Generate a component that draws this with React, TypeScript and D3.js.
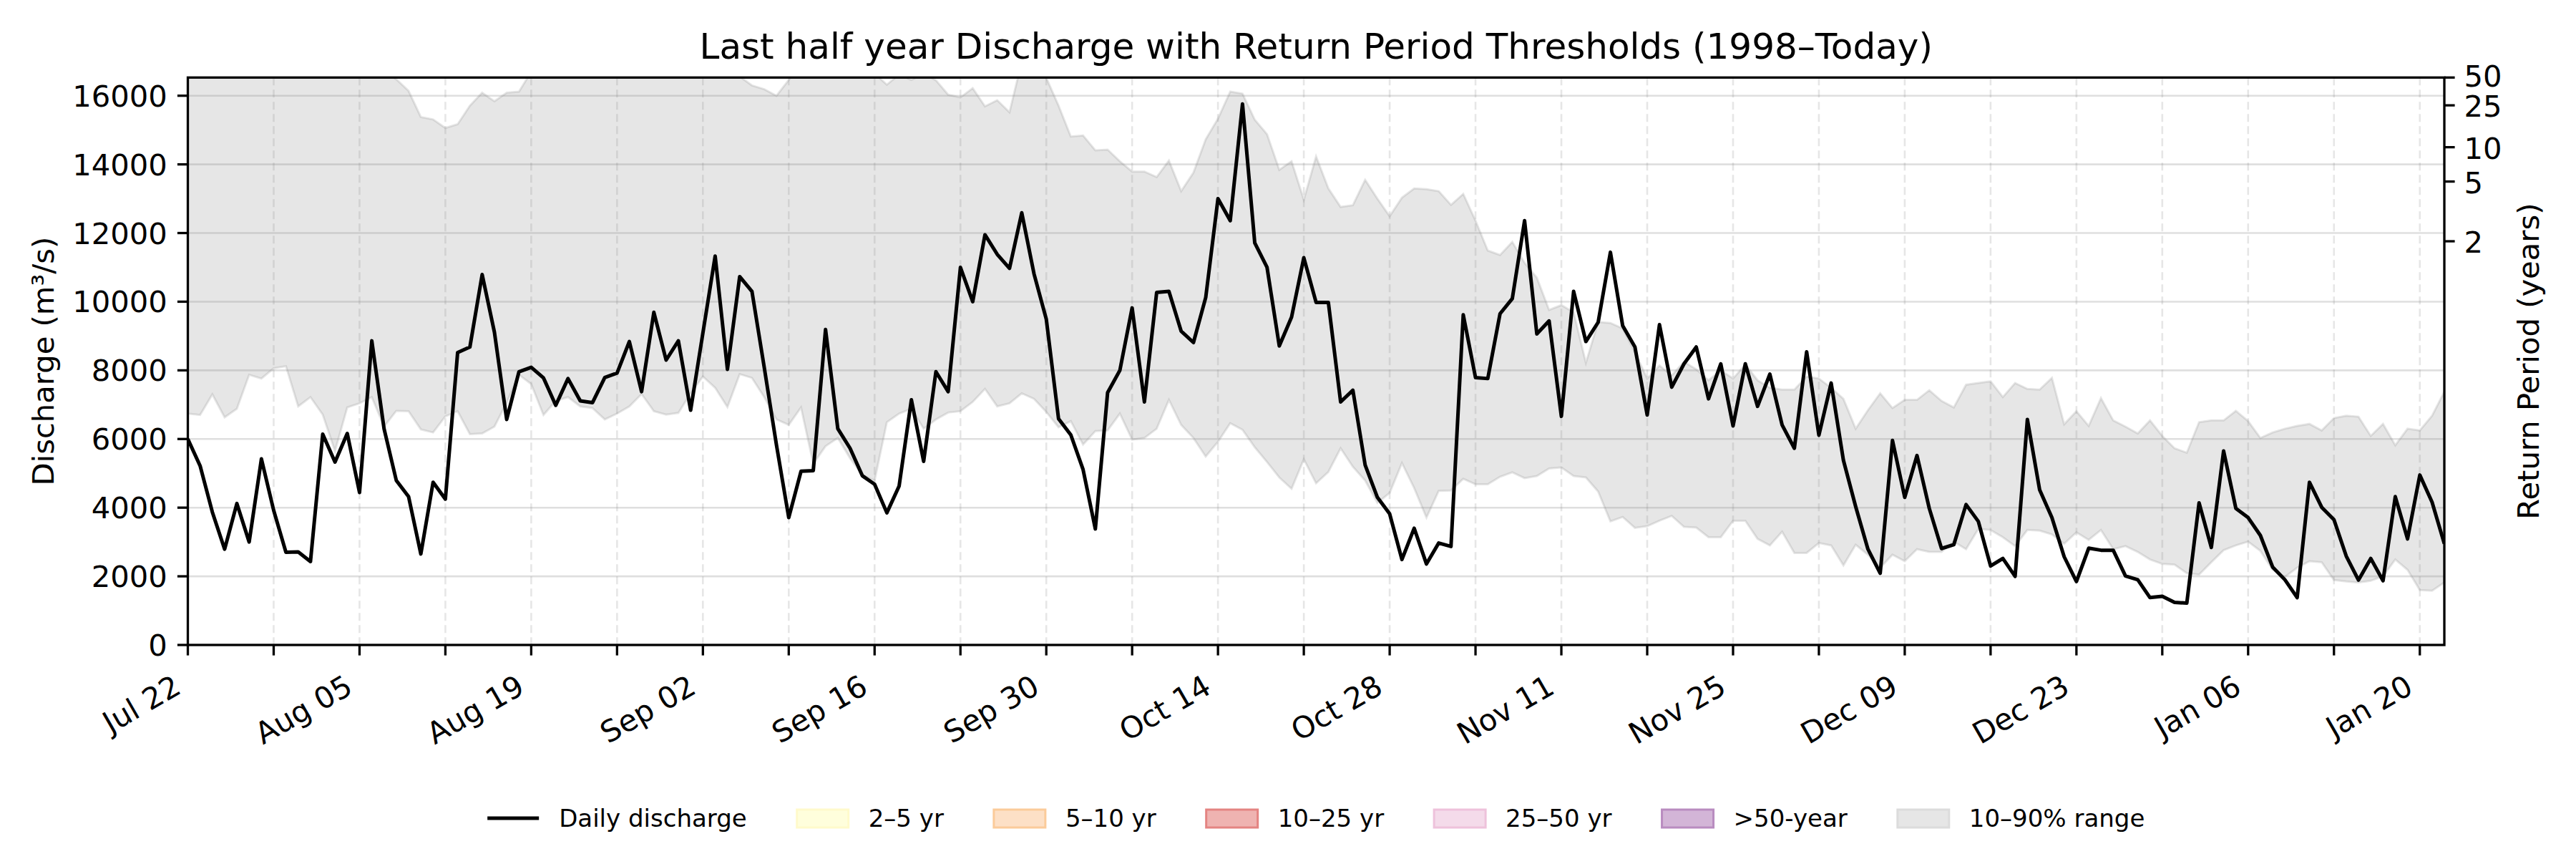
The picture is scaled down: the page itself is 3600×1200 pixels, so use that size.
import React, { useMemo } from 'react';
import * as d3 from 'd3';

// daily series, Jul 22 -> Jan 22
const START = Date.UTC(2024, 6, 22);

const discharge = [
  6000, 5220, 3870, 2790, 4120, 3000, 5420, 3920, 2700, 2710,
  2430, 6140, 5330, 6160, 4440, 8860, 6300, 4790, 4320, 2650,
  4740, 4250, 8520, 8680, 10790, 9110, 6570, 7960, 8090, 7780,
  6980, 7760, 7110, 7060, 7790, 7920, 8840, 7380, 9690, 8300,
  8860, 6840, 9090, 11330, 8030, 10730, 10300, 8090, 5820, 3710,
  5060, 5080, 9190, 6300, 5730, 4930, 4680, 3850, 4630, 7140,
  5350, 7960, 7380, 11000, 10000, 11950, 11380, 10970, 12590, 10810,
  9490, 6590, 6120, 5110, 3380, 7350, 8000, 9820, 7080, 10270,
  10300, 9140, 8810, 10120, 13000, 12360, 15760, 11710, 11000, 8710,
  9550, 11280, 9980, 9980, 7080, 7420, 5240, 4300, 3820, 2490,
  3400, 2360, 2970, 2870, 9620, 7790, 7760, 9650, 10090, 12360,
  9060, 9440, 6660, 10300, 8840, 9400, 11440, 9300, 8680, 6700,
  9330, 7510, 8190, 8680, 7170, 8190, 6380, 8190, 6950, 7890,
  6410, 5730, 8540, 6110, 7630, 5380, 4030, 2790, 2090, 5960,
  4300, 5520, 3980, 2810, 2920, 4090, 3600, 2300, 2520, 2000,
  6570, 4520, 3710, 2570, 1850, 2820, 2760, 2760, 2010, 1900,
  1380, 1420, 1240, 1220, 4140, 2840, 5650, 3980, 3710, 3190,
  2270, 1900, 1380, 4740, 4010, 3650, 2590, 1890, 2520, 1870,
  4320, 3090, 4950, 4160, 2950,
];

const p10 = [
  6740, 6700, 7300, 6630, 6880, 7870, 7760, 8060, 8120, 6950,
  7220, 6710, 5650, 6920, 7040, 7220, 6360, 6820, 6810, 6280,
  6190, 6660, 6810, 6140, 6160, 6360, 7060, 7870, 7600, 6700,
  7110, 7220, 6950, 6900, 6570, 6740, 6950, 7310, 6810, 6710,
  6760, 7330, 7820, 7490, 6930, 7890, 7780, 7220, 6570, 6410,
  6920, 5280, 5790, 6030, 5440, 4950, 4790, 6490, 6740, 6880,
  6300, 6570, 6770, 6810, 7080, 7460, 6950, 7040, 7330, 7170,
  6790, 6340, 6520, 5840, 6230, 6250, 6740, 5980, 6030, 6300,
  7140, 6410, 6030, 5490, 5920, 6460, 6270, 5760, 5330, 4880,
  4550, 5410, 4710, 5040, 5730, 5190, 4790, 4140, 4430, 5300,
  4570, 3710, 4490, 4500, 4840, 4680, 4680, 4900, 5030, 4860,
  4920, 5140, 5170, 4920, 4880, 4470, 3600, 3730, 3410, 3460,
  3620, 3760, 3440, 3420, 3140, 3140, 3620, 3620, 3090, 2900,
  3300, 2680, 2680, 2970, 2900, 2320, 2920, 2630, 2250, 2630,
  2440, 2790, 2710, 2710, 3010, 2790, 3380, 3350, 3140, 2880,
  3350, 3330, 3220, 2950, 3280, 3060, 3350, 2790, 2880, 2710,
  2490, 2360, 2340, 2090, 2050, 2410, 2760, 2900, 3010, 2740,
  2190, 1980, 2250, 2440, 2410, 1890, 1850, 1820, 1870, 2000,
  2490, 2190, 1600, 1580, 1820,
];

const p90 = [
  17400, 17600, 17300, 17800, 18000, 17700, 17900, 18200, 17800, 17500,
  17900, 18100, 17600, 17300, 17400, 17100, 16700, 16480, 16140, 15380,
  15310, 15060, 15170, 15710, 16090, 15840, 16090, 16120, 16700, 17200,
  17500, 17300, 17800, 17600, 17900, 17700, 17400, 17600, 17300, 17800,
  17500, 17300, 17600, 17200, 16900, 16560, 16300, 16190, 16000, 16460,
  16900, 17200, 17400, 17100, 17300, 16900, 16650, 16320, 16620, 16460,
  16650, 16450, 16030, 15950, 16220, 15690, 15870, 15520, 17000, 17100,
  16520, 15710, 14810, 14840, 14410, 14430, 14090, 13790, 13790, 13630,
  14110, 13220, 13760, 14730, 15330, 16120, 16060, 15300, 14880, 13840,
  14090, 12970, 14230, 13300, 12760, 12810, 13550, 13000, 12490, 13030,
  13300, 13280, 13220, 12820, 13140, 12360, 11490, 11360, 11740, 11130,
  10700, 9760, 9900, 9690, 8220, 9410, 9380, 9220, 8520, 7760,
  8140, 7850, 8250, 8030, 7710, 8000, 7760, 8170, 7710, 7490,
  7440, 7440, 7820, 7760, 7490, 7170, 6300, 6840, 7330, 6900,
  7140, 7140, 7420, 7110, 6920, 7580, 7630, 7680, 7220, 7630,
  7460, 7440, 7780, 6430, 6810, 6380, 7190, 6540, 6360, 6160,
  6540, 6090, 5730, 5600, 6490, 6540, 6540, 6820, 6520, 6030,
  6190, 6300, 6380, 6440, 6250, 6610, 6680, 6650, 6090, 6440,
  5820, 6300, 6250, 6680, 7380,
];

const yTicks = [0, 2000, 4000, 6000, 8000, 10000, 12000, 14000, 16000];
const returnPeriods = [2, 5, 10, 25, 50];
const returnThresholds = [11760, 13500, 14500, 15720, 16530];
const Y_MAX = 16530;

const legendLabels = ['Daily discharge', '2–5 yr', '5–10 yr', '10–25 yr', '25–50 yr', '>50-year', '10–90% range'];
const legendFills = ['', '#FFFEDC', '#FDE0C6', '#EFB3B1', '#F4DBEA', '#D3B5D7', '#E6E6E6'];
const legendEdges = ['', '#FFFACB', '#FBCB9A', '#E48482', '#EEC2DB', '#B98CC0', '#DCDCDC'];

const W = 3600;
const H = 1200;
const PL = 262.5, PR = 3416, PT = 108.3, PB = 901;
const FONT = '"DejaVu Sans", "Liberation Sans", sans-serif';
const TICK = 14.6;
const FS = 41.7;
const LFS = 34;

export default function App() {
  const dates = useMemo(() => discharge.map((_, i) => new Date(START + i * 86400000)), []);

  const x = d3.scaleUtc().domain([dates[0], dates[dates.length - 1]]).range([PL, PR]);
  const y = d3.scaleLinear().domain([0, Y_MAX]).range([PB, PT]);

  const weekTicks = d3.range(0, discharge.length, 7).map(i => dates[i]);
  const fmt = d3.utcFormat('%b %d');

  const band = d3.area<number>()
    .x((_, i) => x(dates[i]))
    .y0((_, i) => y(p10[i]))
    .y1((_, i) => y(p90[i]))(discharge) || '';

  const line = d3.line<number>()
    .x((_, i) => x(dates[i]))
    .y(d => y(d))(discharge) || '';

  // legend layout from measured label widths
  const legend = useMemo(() => {
    const ctx = document.createElement('canvas').getContext('2d');
    const handle = 72, pad = 28, gap = 70;
    const widths = legendLabels.map(l => {
      if (!ctx) return l.length * 18;
      ctx.font = `${LFS}px ${FONT}`;
      return ctx.measureText(l).width;
    });
    const total = d3.sum(widths) + legendLabels.length * (handle + pad) + (legendLabels.length - 1) * gap;
    let cx = (PL + PR) / 2 - total / 2;
    return legendLabels.map((l, i) => {
      const item = { label: l, x: cx, handle, tx: cx + handle + pad };
      cx += handle + pad + widths[i] + gap;
      return item;
    });
  }, []);

  const LY = 1143;

  return (
    <svg width={W} height={H} viewBox={`0 0 ${W} ${H}`}
      style={{ position: 'absolute', left: 0, top: 0, background: '#fff' }}
      fontFamily={FONT}>
      <defs>
        <clipPath id="plotClip">
          <rect x={PL} y={PT} width={PR - PL} height={PB - PT} />
        </clipPath>
      </defs>

      {/* 10-90% band */}
      <path d={band} fill="rgba(128,128,128,0.2)" stroke="rgba(128,128,128,0.2)" strokeWidth={3}
        clipPath="url(#plotClip)" />

      {/* grid */}
      <g clipPath="url(#plotClip)">
        {yTicks.map(t => (
          <line key={t} x1={PL} x2={PR} y1={y(t)} y2={y(t)}
            stroke="rgba(128,128,128,0.25)" strokeWidth={2.6} />
        ))}
        {weekTicks.map((d, i) => (
          <line key={i} x1={x(d)} x2={x(d)} y1={PT} y2={PB}
            stroke="rgba(128,128,128,0.2)" strokeWidth={2.6} strokeDasharray="11,6" />
        ))}
      </g>

      {/* daily discharge */}
      <path d={line} fill="none" stroke="#000" strokeWidth={5} strokeLinejoin="round"
        clipPath="url(#plotClip)" />

      {/* frame */}
      <rect x={PL} y={PT} width={PR - PL} height={PB - PT} fill="none" stroke="#000" strokeWidth={3.3} />

      {/* left axis */}
      {yTicks.map(t => (
        <g key={t}>
          <line x1={PL - TICK} x2={PL} y1={y(t)} y2={y(t)} stroke="#000" strokeWidth={3.3} />
          <text x={PL - TICK - 14} y={y(t) + 15} fontSize={FS} textAnchor="end">{t}</text>
        </g>
      ))}
      <text transform={`translate(75,${(PT + PB) / 2}) rotate(-90)`} fontSize={FS} textAnchor="middle">
        Discharge (m³/s)
      </text>

      {/* right axis: return periods */}
      {returnPeriods.map((rp, i) => (
        <g key={rp}>
          <line x1={PR} x2={PR + TICK} y1={y(returnThresholds[i])} y2={y(returnThresholds[i])}
            stroke="#000" strokeWidth={3.3} />
          <text x={PR + TICK + 13} y={y(returnThresholds[i]) + (rp === 50 ? 13 : 16)} fontSize={FS}>{rp}</text>
        </g>
      ))}
      <text transform={`translate(3548,${(PT + PB) / 2}) rotate(-90)`} fontSize={FS} textAnchor="middle">
        Return Period (years)
      </text>

      {/* bottom axis */}
      {weekTicks.map((d, i) => (
        <g key={i}>
          <line x1={x(d)} x2={x(d)} y1={PB} y2={PB + TICK} stroke="#000" strokeWidth={3.3} />
          {i % 2 === 0 && (
            <text transform={`translate(${x(d) - 7},${PB + 66}) rotate(-30)`} fontSize={FS} textAnchor="end">
              {fmt(d)}
            </text>
          )}
        </g>
      ))}

      {/* title */}
      <text x={(PL + PR) / 2} y={82} fontSize={50} textAnchor="middle">
        Last half year Discharge with Return Period Thresholds (1998–Today)
      </text>

      {/* legend */}
      {legend.map((it, i) => (
        <g key={it.label}>
          {i === 0 ? (
            <line x1={it.x} x2={it.x + it.handle} y1={LY} y2={LY} stroke="#000" strokeWidth={5} />
          ) : (
            <rect x={it.x} y={LY - 12} width={it.handle} height={25}
              fill={legendFills[i]} stroke={legendEdges[i]} strokeWidth={3} />
          )}
          <text x={it.tx} y={LY + 12} fontSize={LFS}>{it.label}</text>
        </g>
      ))}
    </svg>
  );
}
